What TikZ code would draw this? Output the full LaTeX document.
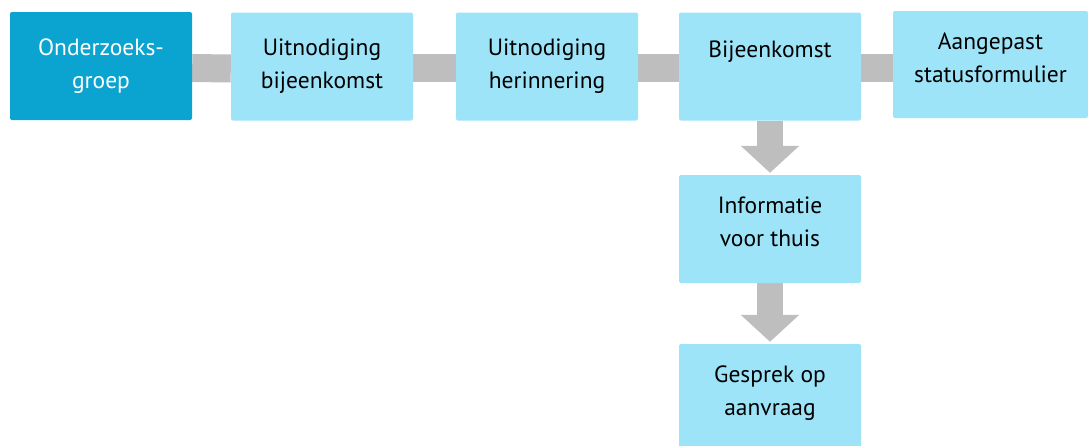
\documentclass[tikz,border=0pt]{standalone}
\usepackage{fontspec}
\setmainfont{PT Sans}
\usetikzlibrary{arrows.meta}
\definecolor{groepblauw}{HTML}{0BA3CF}
\definecolor{lichtblauw}{HTML}{9EE4F9}
\definecolor{balkgrijs}{HTML}{BEBEBE}
\pgfdeclarelayer{achter}
\pgfsetlayers{achter,main}
\tikzset{
  stap/.style={fill=lichtblauw,rounded corners=2pt,minimum width=182pt,minimum height=108pt,
    align=center,inner sep=0pt,font=\fontsize{23.5}{33}\selectfont},
  balk/.style={draw=balkgrijs,line width=28pt},
  pijl/.style={draw=balkgrijs,line width=26pt,-{Triangle[width=57pt,length=27pt]},shorten >=2pt}
}
\begin{document}
\begin{tikzpicture}[x=1pt,y=1pt]
		\useasboundingbox (0,0) rectangle (1088,-445);
		\node[stap,fill=groepblauw,text=white] (groep) at (101,-66) {Onderzoeks-\\groep};
		\node[stap] (uitnod) at (322,-66.5) {Uitnodiging\\bijeenkomst};
		\node[stap] (herinn) at (547,-66.5) {Uitnodiging\\herinnering};
		\node[stap] (bijeen) at (770,-66.5) {Bijeenkomst\\[2pt]~};
		\node[stap,minimum width=195pt,minimum height=107pt] (status) at (990.5,-64.5) {Aangepast\\statusformulier\\[-19pt]~};
		\node[stap] (thuis) at (770,-229) {Informatie\\voor thuis\\[-19pt]~};
		\node[stap] (gesprek) at (770,-398) {Gesprek op\\aanvraag\\[-19pt]~};
		\begin{pgfonlayer}{achter}
		\draw[balk] ([yshift=-2pt]groep.east)--([yshift=-2pt]uitnod.west);
		\draw[balk] ([yshift=-1.5pt]uitnod.east)--([yshift=-1.5pt]herinn.west);
		\draw[balk] ([yshift=-1.5pt]herinn.east)--([yshift=-1.5pt]bijeen.west);
		\draw[balk] ([yshift=-1.5pt]bijeen.east)--([yshift=-1.5pt]bijeen.east -| status.west);
		\draw[pijl] (bijeen.south)--(thuis.north);
		\draw[pijl] (thuis.south)--(gesprek.north);
		\end{pgfonlayer}
		\end{tikzpicture}
\end{document}
